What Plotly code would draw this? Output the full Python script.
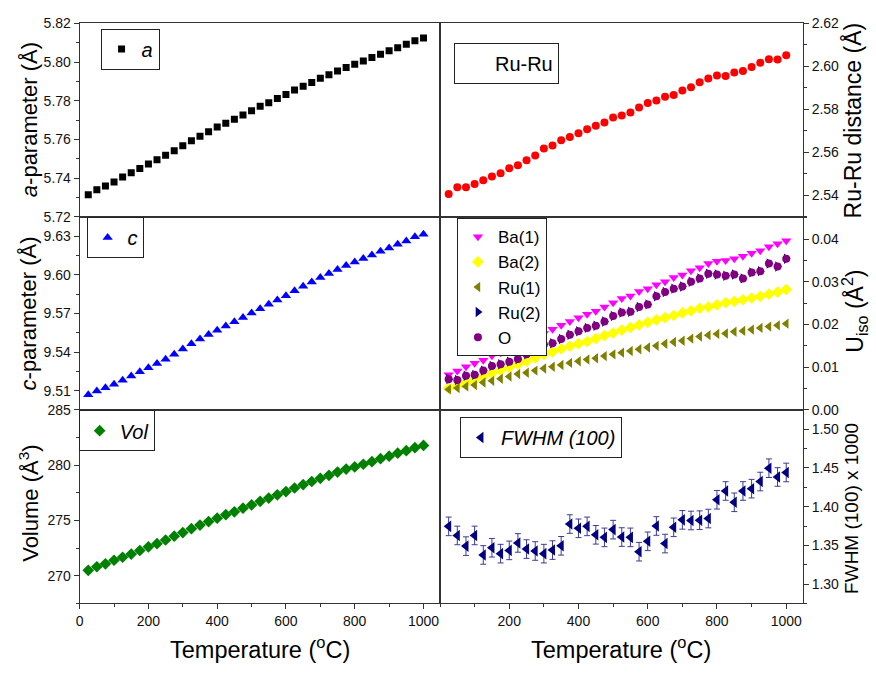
import plotly.graph_objects as go

# ---------------- data ----------------
T = list(range(25, 1001, 25))  # Temperature (°C), 40 points

a_param = [5.7315, 5.7340, 5.7360, 5.7380, 5.7406, 5.7428, 5.7450, 5.7473, 5.7495, 5.7519,
           5.7542, 5.7568, 5.7593, 5.7617, 5.7640, 5.7664, 5.7684, 5.7704, 5.7726, 5.7748,
           5.7772, 5.7790, 5.7812, 5.7832, 5.7856, 5.7875, 5.7895, 5.7917, 5.7934, 5.7954,
           5.7972, 5.7989, 5.8006, 5.8023, 5.8041, 5.8058, 5.8074, 5.8092, 5.8110, 5.8124]

ru_ru = [2.5406, 2.5438, 2.5438, 2.5453, 2.5470, 2.5488, 2.5503, 2.5526, 2.5540, 2.5564,
         2.5586, 2.5618, 2.5632, 2.5656, 2.5671, 2.5689, 2.5708, 2.5724, 2.5739, 2.5762,
         2.5771, 2.5786, 2.5809, 2.5830, 2.5841, 2.5859, 2.5867, 2.5888, 2.5903, 2.5926,
         2.5944, 2.5958, 2.5955, 2.5971, 2.5979, 2.5997, 2.6017, 2.6033, 2.6032, 2.6052]
ru_ru_err = [0.0012] * 40

c_param = [9.5067, 9.5097, 9.5123, 9.5150, 9.5181, 9.5213, 9.5247, 9.5277, 9.5310, 9.5343,
           9.5383, 9.5423, 9.5464, 9.5502, 9.5537, 9.5570, 9.5603, 9.5636, 9.5668, 9.5704,
           9.5737, 9.5772, 9.5805, 9.5838, 9.5876, 9.5911, 9.5944, 9.5980, 9.6010, 9.6042,
           9.6073, 9.6100, 9.6126, 9.6153, 9.6184, 9.6209, 9.6237, 9.6262, 9.6295, 9.6315]

u_ba1 = [0.0082, 0.0091, 0.0101, 0.0109, 0.0116, 0.0127, 0.0134, 0.0144, 0.0153, 0.0162,
         0.0170, 0.0179, 0.0189, 0.0198, 0.0207, 0.0216, 0.0224, 0.0231, 0.0241, 0.0251,
         0.0261, 0.0267, 0.0277, 0.0284, 0.0293, 0.0300, 0.0310, 0.0316, 0.0326, 0.0333,
         0.0343, 0.0348, 0.0350, 0.0354, 0.0360, 0.0367, 0.0373, 0.0382, 0.0389, 0.0396]
u_ba2 = [0.0051, 0.0057, 0.0064, 0.0070, 0.0078, 0.0086, 0.0093, 0.0100, 0.0107, 0.0114,
         0.0122, 0.0130, 0.0136, 0.0143, 0.0149, 0.0155, 0.0160, 0.0167, 0.0174, 0.0180,
         0.0187, 0.0193, 0.0199, 0.0205, 0.0211, 0.0216, 0.0221, 0.0227, 0.0232, 0.0238,
         0.0241, 0.0246, 0.0251, 0.0254, 0.0258, 0.0262, 0.0266, 0.0271, 0.0276, 0.0282]
u_ru1 = [0.0048, 0.0051, 0.0055, 0.0058, 0.0064, 0.0068, 0.0073, 0.0078, 0.0084, 0.0087,
         0.0092, 0.0097, 0.0101, 0.0105, 0.0110, 0.0114, 0.0118, 0.0121, 0.0126, 0.0130,
         0.0134, 0.0138, 0.0142, 0.0146, 0.0150, 0.0155, 0.0159, 0.0162, 0.0167, 0.0172,
         0.0175, 0.0178, 0.0179, 0.0183, 0.0185, 0.0188, 0.0192, 0.0195, 0.0198, 0.0202]
u_ru2 = [0.0072, 0.0070, 0.0080, 0.0082, 0.0092, 0.0103, 0.0107, 0.0113, 0.0119, 0.0130,
         0.0138, 0.0153, 0.0156, 0.0166, 0.0176, 0.0184, 0.0192, 0.0197, 0.0207, 0.0220,
         0.0228, 0.0230, 0.0241, 0.0247, 0.0266, 0.0276, 0.0284, 0.0289, 0.0300, 0.0308,
         0.0319, 0.0317, 0.0314, 0.0317, 0.0308, 0.0322, 0.0325, 0.0343, 0.0336, 0.0354]
u_o = [0.0072, 0.0070, 0.0080, 0.0082, 0.0092, 0.0103, 0.0107, 0.0113, 0.0119, 0.0130,
       0.0138, 0.0153, 0.0156, 0.0166, 0.0176, 0.0184, 0.0192, 0.0197, 0.0207, 0.0220,
       0.0228, 0.0230, 0.0241, 0.0247, 0.0266, 0.0276, 0.0284, 0.0289, 0.0300, 0.0308,
       0.0319, 0.0317, 0.0314, 0.0317, 0.0308, 0.0322, 0.0325, 0.0343, 0.0336, 0.0354]

volume = [270.50, 270.82, 271.09, 271.41, 271.68, 271.97, 272.29, 272.62, 272.91, 273.24,
          273.59, 273.91, 274.26, 274.59, 274.91, 275.21, 275.53, 275.79, 276.12, 276.41,
          276.74, 277.03, 277.32, 277.62, 277.94, 278.24, 278.53, 278.82, 279.09, 279.38,
          279.65, 279.85, 280.09, 280.32, 280.59, 280.82, 281.09, 281.32, 281.59, 281.79]

fwhm = [1.3746, 1.3629, 1.3491, 1.3629, 1.3377, 1.3470, 1.3394, 1.3436, 1.3532, 1.3453,
        1.3428, 1.3394, 1.3440, 1.3495, 1.3776, 1.3721, 1.3746, 1.3637, 1.3604, 1.3704,
        1.3608, 1.3604, 1.3419, 1.3553, 1.3751, 1.3524, 1.3734, 1.3830, 1.3822, 1.3826,
        1.3847, 1.4090, 1.4203, 1.4057, 1.4203, 1.4233, 1.4325, 1.4497, 1.4384, 1.4442]
fwhm_err = [0.012] * 40

x_ticks_right = [200, 400, 600, 800, 1000]

# ---------------- figure ----------------
FONT = "Liberation Sans, Arial, sans-serif"
W, H = 876, 673

def px_x(p):
    return p / W

def px_y(p):
    return 1 - p / H

XL = [px_x(76), px_x(438)]
XR = [px_x(438), px_x(802.5)]
YT = [px_y(214), px_y(15.7)]
YM = [px_y(411.7), px_y(214)]
YB = [px_y(610), px_y(411.7)]

fig = go.Figure()

fig.add_trace(go.Scatter(x=T, y=a_param, mode="markers", name="<i>a</i>",
                         marker=dict(symbol="square", color="black", size=7),
                         xaxis="x", yaxis="y", legend="legend"))

fig.add_trace(go.Scatter(x=T, y=ru_ru, mode="markers", name="Ru-Ru", showlegend=False,
                         marker=dict(symbol="circle", color="red", size=8),
                         error_y=dict(type="data", array=ru_ru_err, color="red", thickness=1, width=2),
                         xaxis="x2", yaxis="y2"))
fig.add_trace(go.Scatter(x=[None], y=[None], mode="markers", name="Ru-Ru",
                         marker=dict(symbol="circle", color="rgba(0,0,0,0)", size=8),
                         xaxis="x2", yaxis="y2", legend="legend2"))

fig.add_trace(go.Scatter(x=T, y=c_param, mode="markers", name="<i>c</i>",
                         marker=dict(symbol="triangle-up", color="blue", size=9),
                         xaxis="x3", yaxis="y3", legend="legend3"))

for name, vals, sym, col, sz in [
    ("Ba(1)", u_ba1, "triangle-down", "#FF00FF", 9),
    ("Ba(2)", u_ba2, "diamond", "#FFFF00", 9),
    ("Ru(1)", u_ru1, "triangle-left", "#808000", 9),
    ("Ru(2)", u_ru2, "triangle-right", "#000080", 9),
    ("O", u_o, "circle", "#800080", 8),
]:
    fig.add_trace(go.Scatter(x=T, y=vals, mode="markers", name=name,
                             marker=dict(symbol=sym, color=col, size=sz),
                             xaxis="x4", yaxis="y4", legend="legend4"))

fig.add_trace(go.Scatter(x=T, y=volume, mode="markers", name="<i>Vol</i>",
                         marker=dict(symbol="diamond", color="#008000", size=9),
                         xaxis="x5", yaxis="y5", legend="legend5"))

fig.add_trace(go.Scatter(x=T, y=fwhm, mode="markers", name="<i>FWHM (100)</i>",
                         marker=dict(symbol="triangle-left", color="#000080", size=10),
                         error_y=dict(type="data", array=fwhm_err, color="#3c3c96", thickness=1, width=3),
                         xaxis="x6", yaxis="y6", legend="legend6"))

LINE = "#333333"
tickfont = dict(family=FONT, size=14, color="#111111")

def xaxis(domain, anchor, bottom, right=False):
    d = dict(domain=domain, anchor=anchor, range=[0, 1048], showline=True, linecolor=LINE,
             linewidth=1, mirror=True, showgrid=False, zeroline=False, tickfont=tickfont)
    if bottom:
        d.update(ticks="outside", ticklen=5, tickcolor=LINE, showticklabels=True,
                 minor=dict(tickmode="linear", tick0=0, dtick=100, ticks="outside", ticklen=3, tickcolor=LINE))
        if right:
            d.update(tickmode="array", tickvals=x_ticks_right)
        else:
            d.update(tickmode="linear", tick0=0, dtick=200)
    else:
        d.update(ticks="", showticklabels=False)
    return d

def yaxis(domain, anchor, rng, tick0, dtick, mdtick, fmt, side="left"):
    return dict(domain=domain, anchor=anchor, range=rng, side=side, showline=True, linecolor=LINE,
                linewidth=1, mirror=True, showgrid=False, zeroline=False, ticks="outside",
                ticklen=5, tickcolor=LINE, tickmode="linear", tick0=tick0, dtick=dtick,
                tickformat=fmt, tickfont=tickfont,
                minor=dict(tick0=tick0, dtick=mdtick, ticks="outside", ticklen=3, tickcolor=LINE))

def legend(x, yc, size):
    return dict(x=px_x(x), y=px_y(yc), xanchor="left", yanchor="middle", bgcolor="white",
                bordercolor="#222222", borderwidth=1, font=dict(family=FONT, size=size, color="black"),
                itemclick=False, tracegroupgap=0)

fig.update_layout(
    width=W, height=H, margin=dict(l=0, r=0, t=0, b=0),
    paper_bgcolor="white", plot_bgcolor="white",
    font=dict(family=FONT, color="black"),
    xaxis=xaxis(XL, "y", False),
    xaxis2=xaxis(XR, "y2", False),
    xaxis3=xaxis(XL, "y3", False),
    xaxis4=xaxis(XR, "y4", False),
    xaxis5=xaxis(XL, "y5", True),
    xaxis6=xaxis(XR, "y6", True, right=True),
    yaxis=yaxis(YT, "x", [5.72, 5.82001], 5.72, 0.02, 0.01, ".2f"),
    yaxis2=yaxis(YT, "x2", [2.53, 2.62001], 2.54, 0.02, 0.01, ".2f", side="right"),
    yaxis3=yaxis(YM, "x3", [9.495, 9.645], 9.51, 0.03, 0.015, ".2f"),
    yaxis4=yaxis(YM, "x4", [-0.00001, 0.0452], 0, 0.01, 0.005, ".2f", side="right"),
    yaxis5=yaxis(YB, "x5", [267.5, 285.001], 270, 5, 2.5, "d"),
    yaxis6=yaxis(YB, "x6", [1.275, 1.525], 1.30, 0.05, 0.025, ".2f", side="right"),
    legend=legend(97, 42, 20),
    legend2=legend(452, 56.5, 20),
    legend3=legend(83, 235, 20),
    legend4=legend(455, 286, 17),
    legend5=legend(75, 433, 20),
    legend6=legend(458, 440, 20),
)

title_font = dict(family=FONT, size=22, color="black")
ann = [
    dict(text="<i>a</i>-parameter (Å)", x=px_x(25), y=px_y(114), textangle=-90),
    dict(text="<i>c</i>-parameter (Å)", x=px_x(25), y=px_y(313), textangle=-90),
    dict(text="Volume (Å<sup>3</sup>)", x=px_x(25), y=px_y(507), textangle=-90),
    dict(text="Ru-Ru distance (Å)", x=px_x(852), y=px_y(115), textangle=-90,
         font=dict(family=FONT, size=23, color="black")),
    dict(text="U<sub>iso</sub> (Å<sup>2</sup>)", x=px_x(854), y=px_y(311), textangle=-90,
         font=dict(family=FONT, size=23, color="black")),
    dict(text="FWHM (100) x 1000", x=px_x(852), y=px_y(513), textangle=-90,
         font=dict(family=FONT, size=19, color="black")),
    dict(text="Temperature (<sup>o</sup>C)", x=px_x(257), y=px_y(656),
         font=dict(family=FONT, size=23.5, color="black")),
    dict(text="Temperature (<sup>o</sup>C)", x=px_x(620), y=px_y(656),
         font=dict(family=FONT, size=23.5, color="black")),
]
for a in ann:
    a.setdefault("font", title_font)
    a.update(xref="paper", yref="paper", showarrow=False, xanchor="center", yanchor="middle")
fig.update_layout(annotations=ann)

fig.write_html("out.html")
